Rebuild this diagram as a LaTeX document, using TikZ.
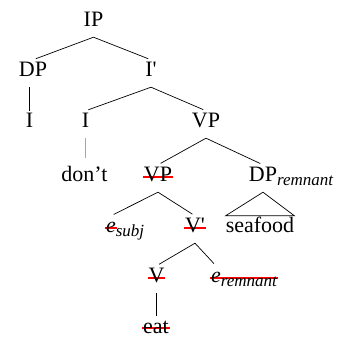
\documentclass[tikz,border=0pt]{standalone}
\usepackage{fontspec}
\setmainfont{Liberation Serif}
\newsavebox\strikebox
\newcommand\struck[1]{\sbox\strikebox{#1}\rlap{\kern-1pt\textcolor{red}{\rule[4pt]{\dimexpr\wd\strikebox+2pt\relax}{1.8pt}}}\usebox\strikebox}
\newcommand\sub[1]{\raisebox{-4pt}{\fontsize{17}{17}\selectfont\itshape #1}}

\begin{document}
\begin{tikzpicture}[x=1pt,y=-1pt,
    lbl/.style={anchor=base,inner sep=0pt,text height=17pt,text depth=10pt,font=\fontsize{22}{26}\selectfont},
    branch/.style={line width=0.7pt,shorten >=3pt},
    thickbranch/.style={line width=1.8pt}]

    \useasboundingbox (0,0) rectangle (338,337);

    \node[lbl] (ip) at (93.5,27) {IP};
    \node[lbl] (dp) at (33,77) {DP};
    \node[lbl] (ibar) at (151,77) {I\textquotesingle};
    \node[lbl] (pron) at (29.5,128) {I};
    \node[lbl] (infl) at (85.5,128) {I};
    \node[lbl] (vp) at (206,128) {VP};
    \node[lbl] (dont) at (84.5,182) {don’t};
    \node[lbl] (vplow) at (158,182) {\struck{VP}};
    \node[lbl] (dprem) at (263,182) {DP\rlap{\sub{remnant}}};
    \node[lbl] (esubj) at (111,233) {\struck{\textit{e}}\rlap{\sub{subj}}};
    \node[lbl] (vbar) at (195,233) {\struck{V\textquotesingle}};
    \node[lbl] (seafood) at (260,233) {seafood};
    \node[lbl] (verb) at (156.5,283) {\struck{V}};
    \node[lbl] (erem) at (216,283) {\struck{\textit{e}}\rlap{\struck{\sub{remnant}}}};
    \node[lbl, text depth=1pt] (eat) at (156,333) {\struck{eat}};

    \draw[branch] (ip.south) -- (dp.north);
    \draw[branch] (ip.south) -- (ibar.north);
    \draw[thickbranch] (pron |- dp.south) -- (pron.north);
    \draw[branch] (ibar.south) -- (infl.north);
    \draw[branch] (ibar.south) -- (vp.north);
    \draw[gray!70, line width=1.2pt, shorten >=7pt] (infl.south) -- (infl |- dont.north);
    \draw[branch] (vp.south) -- (vplow.north);
    \draw[branch] (vp.south) -- (dprem.north);
    \draw[branch] (vplow.south) -- (esubj.north);
    \draw[branch] (vplow.south) -- (vbar.north);
    \draw[line width=0.7pt] (dprem.south) -- (seafood.north west) -- (seafood.north east) -- cycle;
    \draw[branch] (vbar.south) -- (verb.north);
    \draw[branch] (vbar.south) -- (erem.north);
    \draw[thickbranch] (verb.south) -- (verb |- eat.north);
\end{tikzpicture}
\end{document}
